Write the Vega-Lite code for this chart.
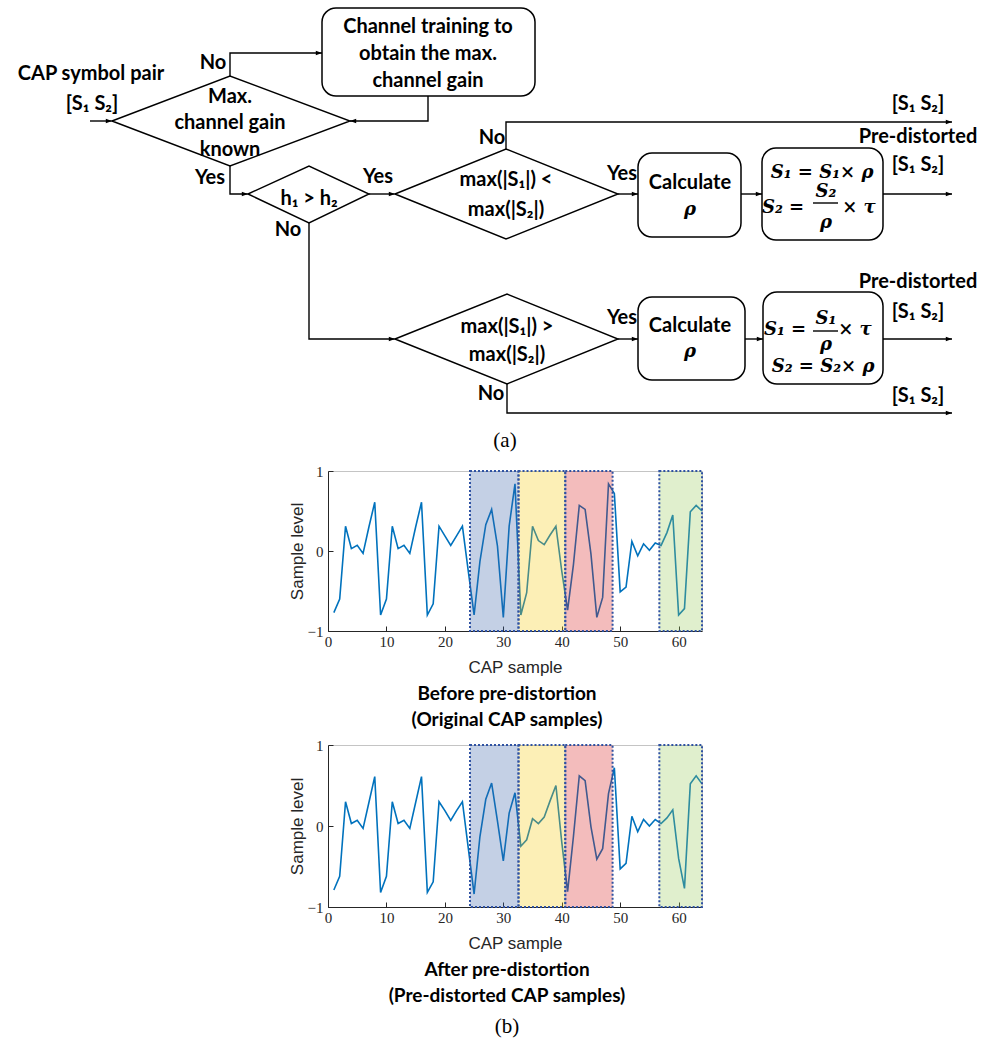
{
  "$schema": "https://vega.github.io/schema/vega-lite/v6.json",
  "padding": 0,
  "background": "white",
  "config": {"font": "Lato", "view": {"stroke": null}},
  "datasets": {
    "paths": [
      {"id": "in", "k": 1, "x": 90, "y": 121}, {"id": "in", "k": 2, "x": 112, "y": 121},
      {"id": "d1", "k": 1, "x": 112, "y": 121}, {"id": "d1", "k": 2, "x": 230, "y": 76}, {"id": "d1", "k": 3, "x": 350, "y": 121}, {"id": "d1", "k": 4, "x": 230, "y": 166}, {"id": "d1", "k": 5, "x": 112, "y": 121},
      {"id": "no1", "k": 1, "x": 230, "y": 76}, {"id": "no1", "k": 2, "x": 230, "y": 53}, {"id": "no1", "k": 3, "x": 322, "y": 53},
      {"id": "fb", "k": 1, "x": 428, "y": 96}, {"id": "fb", "k": 2, "x": 428, "y": 121}, {"id": "fb", "k": 3, "x": 350, "y": 121},
      {"id": "yes1", "k": 1, "x": 230, "y": 166}, {"id": "yes1", "k": 2, "x": 230, "y": 194}, {"id": "yes1", "k": 3, "x": 248, "y": 194},
      {"id": "d2", "k": 1, "x": 248, "y": 194}, {"id": "d2", "k": 2, "x": 309, "y": 166}, {"id": "d2", "k": 3, "x": 369, "y": 194}, {"id": "d2", "k": 4, "x": 309, "y": 223}, {"id": "d2", "k": 5, "x": 248, "y": 194},
      {"id": "yes2", "k": 1, "x": 369, "y": 194}, {"id": "yes2", "k": 2, "x": 395, "y": 194},
      {"id": "d3", "k": 1, "x": 395, "y": 194}, {"id": "d3", "k": 2, "x": 506, "y": 149}, {"id": "d3", "k": 3, "x": 618, "y": 194}, {"id": "d3", "k": 4, "x": 506, "y": 239}, {"id": "d3", "k": 5, "x": 395, "y": 194},
      {"id": "no3", "k": 1, "x": 506, "y": 149}, {"id": "no3", "k": 2, "x": 506, "y": 122}, {"id": "no3", "k": 3, "x": 952, "y": 122},
      {"id": "yes3", "k": 1, "x": 618, "y": 194}, {"id": "yes3", "k": 2, "x": 638, "y": 194},
      {"id": "c1f1", "k": 1, "x": 741, "y": 194}, {"id": "c1f1", "k": 2, "x": 762, "y": 194},
      {"id": "out1", "k": 1, "x": 883, "y": 194}, {"id": "out1", "k": 2, "x": 952, "y": 194},
      {"id": "no2", "k": 1, "x": 309, "y": 223}, {"id": "no2", "k": 2, "x": 309, "y": 339}, {"id": "no2", "k": 3, "x": 395, "y": 339},
      {"id": "d4", "k": 1, "x": 395, "y": 339}, {"id": "d4", "k": 2, "x": 507, "y": 294}, {"id": "d4", "k": 3, "x": 618, "y": 339}, {"id": "d4", "k": 4, "x": 507, "y": 384}, {"id": "d4", "k": 5, "x": 395, "y": 339},
      {"id": "yes4", "k": 1, "x": 618, "y": 339}, {"id": "yes4", "k": 2, "x": 638, "y": 339},
      {"id": "c2f2", "k": 1, "x": 745, "y": 339}, {"id": "c2f2", "k": 2, "x": 763, "y": 339},
      {"id": "out2", "k": 1, "x": 883, "y": 339}, {"id": "out2", "k": 2, "x": 952, "y": 339},
      {"id": "no4", "k": 1, "x": 507, "y": 384}, {"id": "no4", "k": 2, "x": 507, "y": 413}, {"id": "no4", "k": 3, "x": 952, "y": 413},
      {"id": "bar1", "k": 1, "x": 813, "y": 203}, {"id": "bar1", "k": 2, "x": 838, "y": 203},
      {"id": "bar2", "k": 1, "x": 813, "y": 331}, {"id": "bar2", "k": 2, "x": 838, "y": 331}
    ],
    "arrows": [
      {"x": 112, "y": 121, "dir": "r"}, {"x": 322, "y": 53, "dir": "r"}, {"x": 350, "y": 121, "dir": "l"},
      {"x": 248, "y": 194, "dir": "r"}, {"x": 395, "y": 194, "dir": "r"}, {"x": 952, "y": 122, "dir": "r"},
      {"x": 638, "y": 194, "dir": "r"}, {"x": 762, "y": 194, "dir": "r"}, {"x": 952, "y": 194, "dir": "r"},
      {"x": 395, "y": 339, "dir": "r"}, {"x": 638, "y": 339, "dir": "r"}, {"x": 763, "y": 339, "dir": "r"},
      {"x": 952, "y": 339, "dir": "r"}, {"x": 952, "y": 413, "dir": "r"}
    ],
    "boxes": [
      {"x": 322, "x2": 535, "y": 8, "y2": 96},
      {"x": 638, "x2": 741, "y": 153, "y2": 237},
      {"x": 762, "x2": 883, "y": 148, "y2": 240},
      {"x": 638, "x2": 745, "y": 297, "y2": 380},
      {"x": 763, "x2": 883, "y": 292, "y2": 384}
    ],
    "texts": [
      {"x": 91, "y": 74, "t": "CAP symbol pair", "kind": "b"},
      {"x": 92, "y": 104, "t": "[S₁ S₂]", "kind": "b"},
      {"x": 213, "y": 63, "t": "No", "kind": "b"},
      {"x": 230, "y": 97, "t": "Max.", "kind": "b"},
      {"x": 230, "y": 123, "t": "channel gain", "kind": "b"},
      {"x": 230, "y": 150, "t": "known", "kind": "b"},
      {"x": 428, "y": 27, "t": "Channel training to", "kind": "b"},
      {"x": 428, "y": 54, "t": "obtain the max.", "kind": "b"},
      {"x": 428, "y": 81, "t": "channel gain", "kind": "b"},
      {"x": 210, "y": 178, "t": "Yes", "kind": "b"},
      {"x": 309, "y": 199, "t": "h₁ > h₂", "kind": "b"},
      {"x": 288, "y": 230, "t": "No", "kind": "b"},
      {"x": 378, "y": 177, "t": "Yes", "kind": "b"},
      {"x": 506, "y": 180, "t": "max(|S₁|) <", "kind": "b"},
      {"x": 506, "y": 210, "t": "max(|S₂|)", "kind": "b"},
      {"x": 492, "y": 138, "t": "No", "kind": "b"},
      {"x": 622, "y": 174, "t": "Yes", "kind": "b"},
      {"x": 690, "y": 183, "t": "Calculate", "kind": "b"},
      {"x": 918, "y": 104, "t": "[S₁ S₂]", "kind": "b"},
      {"x": 918, "y": 137, "t": "Pre-distorted", "kind": "b"},
      {"x": 918, "y": 165, "t": "[S₁ S₂]", "kind": "b"},
      {"x": 507, "y": 327, "t": "max(|S₁|) >", "kind": "b"},
      {"x": 507, "y": 355, "t": "max(|S₂|)", "kind": "b"},
      {"x": 622, "y": 318, "t": "Yes", "kind": "b"},
      {"x": 491, "y": 394, "t": "No", "kind": "b"},
      {"x": 690, "y": 326, "t": "Calculate", "kind": "b"},
      {"x": 918, "y": 282, "t": "Pre-distorted", "kind": "b"},
      {"x": 918, "y": 312, "t": "[S₁ S₂]", "kind": "b"},
      {"x": 918, "y": 396, "t": "[S₁ S₂]", "kind": "b"},
      {"x": 690, "y": 210, "t": "ρ", "kind": "m"},
      {"x": 822, "y": 173, "t": "S₁ = S₁× ρ", "kind": "m"},
      {"x": 783, "y": 208, "t": "S₂ =", "kind": "m"},
      {"x": 826, "y": 192, "t": "S₂", "kind": "m"},
      {"x": 826, "y": 223, "t": "ρ", "kind": "m"},
      {"x": 859, "y": 208, "t": "× τ", "kind": "m"},
      {"x": 690, "y": 352, "t": "ρ", "kind": "m"},
      {"x": 785, "y": 330, "t": "S₁ =", "kind": "m"},
      {"x": 826, "y": 319, "t": "S₁", "kind": "m"},
      {"x": 826, "y": 345, "t": "ρ", "kind": "m"},
      {"x": 855, "y": 330, "t": "× τ", "kind": "m"},
      {"x": 823, "y": 367, "t": "S₂ = S₂× ρ", "kind": "m"},
      {"x": 505, "y": 441, "t": "(a)", "kind": "c"}
    ],
    "samples": [
      {"n": 1, "before": -0.77, "after": -0.79}, {"n": 2, "before": -0.6, "after": -0.62},
      {"n": 3, "before": 0.31, "after": 0.3}, {"n": 4, "before": 0.03, "after": 0.03},
      {"n": 5, "before": 0.07, "after": 0.07}, {"n": 6, "before": -0.03, "after": -0.03},
      {"n": 7, "before": 0.3, "after": 0.29}, {"n": 8, "before": 0.61, "after": 0.61},
      {"n": 9, "before": -0.8, "after": -0.82}, {"n": 10, "before": -0.6, "after": -0.62},
      {"n": 11, "before": 0.31, "after": 0.3}, {"n": 12, "before": 0.03, "after": 0.03},
      {"n": 13, "before": 0.07, "after": 0.07}, {"n": 14, "before": -0.03, "after": -0.03},
      {"n": 15, "before": 0.3, "after": 0.29}, {"n": 16, "before": 0.61, "after": 0.61},
      {"n": 17, "before": -0.8, "after": -0.82}, {"n": 18, "before": -0.66, "after": -0.69},
      {"n": 19, "before": 0.31, "after": 0.3}, {"n": 20, "before": 0.19, "after": 0.19},
      {"n": 21, "before": 0.07, "after": 0.07}, {"n": 22, "before": 0.19, "after": 0.19},
      {"n": 23, "before": 0.31, "after": 0.3}, {"n": 24, "before": -0.25, "after": -0.27},
      {"n": 25, "before": -0.8, "after": -0.84}, {"n": 26, "before": -0.13, "after": -0.13},
      {"n": 27, "before": 0.33, "after": 0.33}, {"n": 28, "before": 0.52, "after": 0.53},
      {"n": 29, "before": 0.06, "after": 0.06}, {"n": 30, "before": -0.83, "after": -0.43},
      {"n": 31, "before": 0.31, "after": 0.16}, {"n": 32, "before": 0.84, "after": 0.41},
      {"n": 33, "before": -0.8, "after": -0.25}, {"n": 34, "before": -0.52, "after": -0.17},
      {"n": 35, "before": 0.31, "after": 0.09}, {"n": 36, "before": 0.13, "after": 0.03},
      {"n": 37, "before": 0.08, "after": 0.11}, {"n": 38, "before": 0.2, "after": 0.31},
      {"n": 39, "before": 0.31, "after": 0.5}, {"n": 40, "before": -0.25, "after": -0.2},
      {"n": 41, "before": -0.74, "after": -0.81}, {"n": 42, "before": -0.17, "after": -0.13},
      {"n": 43, "before": 0.57, "after": 0.62}, {"n": 44, "before": 0.52, "after": 0.56},
      {"n": 45, "before": -0.04, "after": -0.01}, {"n": 46, "before": -0.83, "after": -0.41},
      {"n": 47, "before": -0.58, "after": -0.28}, {"n": 48, "before": 0.84, "after": 0.4},
      {"n": 49, "before": 0.72, "after": 0.72}, {"n": 50, "before": -0.51, "after": -0.53},
      {"n": 51, "before": -0.45, "after": -0.46}, {"n": 52, "before": 0.12, "after": 0.12},
      {"n": 53, "before": -0.06, "after": -0.07}, {"n": 54, "before": 0.09, "after": 0.08},
      {"n": 55, "before": 0.01, "after": 0.0}, {"n": 56, "before": 0.1, "after": 0.08},
      {"n": 57, "before": 0.07, "after": 0.03}, {"n": 58, "before": 0.23, "after": 0.1},
      {"n": 59, "before": 0.45, "after": 0.2}, {"n": 60, "before": -0.8, "after": -0.4},
      {"n": 61, "before": -0.72, "after": -0.77}, {"n": 62, "before": 0.49, "after": 0.52},
      {"n": 63, "before": 0.57, "after": 0.62}, {"n": 64, "before": 0.5, "after": 0.52}
    ],
    "bands": [
      {"start": 24.3, "end": 32.6, "g": "blue"},
      {"start": 32.6, "end": 40.6, "g": "yellow"},
      {"start": 40.6, "end": 48.7, "g": "red"},
      {"start": 56.7, "end": 64, "g": "green"}
    ]
  },
  "vconcat": [
    {
      "width": 991,
      "height": 457,
      "layer": [
        {
          "data": {"name": "boxes"},
          "mark": {"type": "rect", "cornerRadius": 14, "fill": "white", "stroke": "black", "strokeWidth": 1.5},
          "encoding": {
            "x": {"field": "x", "type": "quantitative", "scale": {"domain": [0, 991], "nice": false, "zero": false}, "axis": null},
            "x2": {"field": "x2"},
            "y": {"field": "y", "type": "quantitative", "scale": {"domain": [0, 457], "nice": false, "zero": false, "reverse": true}, "axis": null},
            "y2": {"field": "y2"}
          }
        },
        {
          "data": {"name": "paths"},
          "mark": {"type": "line", "color": "black", "strokeWidth": 1.4, "strokeJoin": "miter"},
          "encoding": {
            "x": {"field": "x", "type": "quantitative", "scale": {"domain": [0, 991], "nice": false, "zero": false}, "axis": null},
            "y": {"field": "y", "type": "quantitative", "scale": {"domain": [0, 457], "nice": false, "zero": false, "reverse": true}, "axis": null},
            "detail": {"field": "id"},
            "order": {"field": "k"}
          }
        },
        {
          "data": {"name": "arrows"},
          "mark": {"type": "point", "filled": true, "color": "black", "opacity": 1, "size": 90},
          "encoding": {
            "x": {"field": "x", "type": "quantitative", "scale": {"domain": [0, 991], "nice": false, "zero": false}, "axis": null},
            "y": {"field": "y", "type": "quantitative", "scale": {"domain": [0, 457], "nice": false, "zero": false, "reverse": true}, "axis": null},
            "shape": {"field": "dir", "type": "nominal", "scale": {"domain": ["r", "l"], "range": ["M0,0L-1.3,-0.5L-1.3,0.5Z", "M0,0L1.3,-0.5L1.3,0.5Z"]}, "legend": null}
          }
        },
        {
          "data": {"name": "texts"},
          "transform": [{"filter": "datum.kind === 'b'"}],
          "mark": {"type": "text", "font": "Lato", "fontWeight": "bold", "fontSize": 20, "align": "center", "baseline": "middle", "color": "black"},
          "encoding": {
            "x": {"field": "x", "type": "quantitative", "scale": {"domain": [0, 991], "nice": false, "zero": false}, "axis": null},
            "y": {"field": "y", "type": "quantitative", "scale": {"domain": [0, 457], "nice": false, "zero": false, "reverse": true}, "axis": null},
            "text": {"field": "t"}
          }
        },
        {
          "data": {"name": "texts"},
          "transform": [{"filter": "datum.kind === 'm'"}],
          "mark": {"type": "text", "font": "DejaVu Serif", "fontWeight": "bold", "fontStyle": "italic", "fontSize": 18, "align": "center", "baseline": "middle", "color": "black"},
          "encoding": {
            "x": {"field": "x", "type": "quantitative", "scale": {"domain": [0, 991], "nice": false, "zero": false}, "axis": null},
            "y": {"field": "y", "type": "quantitative", "scale": {"domain": [0, 457], "nice": false, "zero": false, "reverse": true}, "axis": null},
            "text": {"field": "t"}
          }
        },
        {
          "data": {"name": "texts"},
          "transform": [{"filter": "datum.kind === 'c'"}],
          "mark": {"type": "text", "font": "Liberation Serif", "fontSize": 21, "align": "center", "baseline": "middle", "color": "black"},
          "encoding": {
            "x": {"field": "x", "type": "quantitative", "scale": {"domain": [0, 991], "nice": false, "zero": false}, "axis": null},
            "y": {"field": "y", "type": "quantitative", "scale": {"domain": [0, 457], "nice": false, "zero": false, "reverse": true}, "axis": null},
            "text": {"field": "t"}
          }
        }
      ]
    },
    {
      "hconcat": [
        {"width": 287, "height": 1, "data": {"values": []}, "mark": "point", "encoding": {}},
        {
          "width": 374,
          "height": 160,
          "view": {"stroke": "#c4c4c4", "strokeWidth": 1},
          "title": {"text": ["Before pre-distortion", "(Original CAP samples)"], "orient": "bottom", "anchor": "middle", "frame": "group", "font": "Lato", "fontSize": 19, "fontWeight": "bold", "color": "black", "lineHeight": 26, "offset": 10, "baseline": "top", "dx": -8},
          "layer": [
            {
              "data": {"name": "samples"},
              "mark": {"type": "line", "color": "#0072BD", "strokeWidth": 1.6},
              "encoding": {
                "x": {"field": "n", "type": "quantitative", "scale": {"domain": [0, 64], "nice": false, "zero": false},
                  "axis": {"title": "CAP sample", "values": [0, 10, 20, 30, 40, 50, 60], "grid": false, "labelOverlap": false, "labelFont": "Liberation Serif", "labelFontSize": 15, "labelColor": "#262626", "titleFont": "Liberation Sans", "titleFontSize": 17, "titleFontWeight": "normal", "titleColor": "#262626", "domainColor": "#262626", "tickColor": "#262626", "tickSize": -5, "labelPadding": 8, "titlePadding": 10, "labelFlush": false}},
                "y": {"field": "before", "type": "quantitative", "scale": {"domain": [-1, 1], "nice": false, "zero": false},
                  "axis": {"title": "Sample level", "values": [-1, 0, 1], "labelExpr": "datum.value > 0.5 ? '1' : (datum.value < -0.5 ? '−1' : '0')", "grid": false, "labelOverlap": false, "labelFont": "Liberation Serif", "labelFontSize": 15, "labelColor": "#262626", "titleFont": "Liberation Sans", "titleFontSize": 17, "titleFontWeight": "normal", "titleColor": "#262626", "domainColor": "#262626", "tickColor": "#262626", "tickSize": -5, "labelPadding": 10, "titlePadding": 1, "labelFlush": false}}
              }
            },
            {
              "data": {"name": "bands"},
              "mark": {"type": "rect", "opacity": 0.3},
              "encoding": {
                "x": {"field": "start", "type": "quantitative"},
                "x2": {"field": "end"},
                "y": {"datum": -1},
                "y2": {"datum": 1},
                "color": {"field": "g", "type": "nominal", "scale": {"domain": ["blue", "yellow", "red", "green"], "range": ["#3b62a8", "#f5ca0c", "#d72020", "#98ca58"]}, "legend": null}
              }
            },
            {
              "data": {"name": "bands"},
              "mark": {"type": "rect", "fillOpacity": 0, "stroke": "#2f52a3", "strokeWidth": 2, "strokeDash": [2, 2]},
              "encoding": {
                "x": {"field": "start", "type": "quantitative"},
                "x2": {"field": "end"},
                "y": {"datum": -1},
                "y2": {"datum": 1}
              }
            }
          ]
        }
      ],
      "spacing": 0
    },
    {
      "hconcat": [
        {"width": 287, "height": 1, "data": {"values": []}, "mark": "point", "encoding": {}},
        {
          "width": 374,
          "height": 162,
          "view": {"stroke": "#c4c4c4", "strokeWidth": 1},
          "title": {"text": ["After pre-distortion", "(Pre-distorted CAP samples)"], "subtitle": "(b)", "subtitleFont": "Liberation Serif", "subtitleFontSize": 21, "subtitleColor": "black", "subtitlePadding": 10, "orient": "bottom", "anchor": "middle", "frame": "group", "font": "Lato", "fontSize": 19, "fontWeight": "bold", "color": "black", "lineHeight": 26, "offset": 10, "baseline": "top", "dx": -8},
          "layer": [
            {
              "data": {"name": "samples"},
              "mark": {"type": "line", "color": "#0072BD", "strokeWidth": 1.6},
              "encoding": {
                "x": {"field": "n", "type": "quantitative", "scale": {"domain": [0, 64], "nice": false, "zero": false},
                  "axis": {"title": "CAP sample", "values": [0, 10, 20, 30, 40, 50, 60], "grid": false, "labelOverlap": false, "labelFont": "Liberation Serif", "labelFontSize": 15, "labelColor": "#262626", "titleFont": "Liberation Sans", "titleFontSize": 17, "titleFontWeight": "normal", "titleColor": "#262626", "domainColor": "#262626", "tickColor": "#262626", "tickSize": -5, "labelPadding": 8, "titlePadding": 10, "labelFlush": false}},
                "y": {"field": "after", "type": "quantitative", "scale": {"domain": [-1, 1], "nice": false, "zero": false},
                  "axis": {"title": "Sample level", "values": [-1, 0, 1], "labelExpr": "datum.value > 0.5 ? '1' : (datum.value < -0.5 ? '−1' : '0')", "grid": false, "labelOverlap": false, "labelFont": "Liberation Serif", "labelFontSize": 15, "labelColor": "#262626", "titleFont": "Liberation Sans", "titleFontSize": 17, "titleFontWeight": "normal", "titleColor": "#262626", "domainColor": "#262626", "tickColor": "#262626", "tickSize": -5, "labelPadding": 10, "titlePadding": 1, "labelFlush": false}}
              }
            },
            {
              "data": {"name": "bands"},
              "mark": {"type": "rect", "opacity": 0.3},
              "encoding": {
                "x": {"field": "start", "type": "quantitative"},
                "x2": {"field": "end"},
                "y": {"datum": -1},
                "y2": {"datum": 1},
                "color": {"field": "g", "type": "nominal", "scale": {"domain": ["blue", "yellow", "red", "green"], "range": ["#3b62a8", "#f5ca0c", "#d72020", "#98ca58"]}, "legend": null}
              }
            },
            {
              "data": {"name": "bands"},
              "mark": {"type": "rect", "fillOpacity": 0, "stroke": "#2f52a3", "strokeWidth": 2, "strokeDash": [2, 2]},
              "encoding": {
                "x": {"field": "start", "type": "quantitative"},
                "x2": {"field": "end"},
                "y": {"datum": -1},
                "y2": {"datum": 1}
              }
            }
          ]
        }
      ],
      "spacing": 0
    }
  ],
  "spacing": 6
}
